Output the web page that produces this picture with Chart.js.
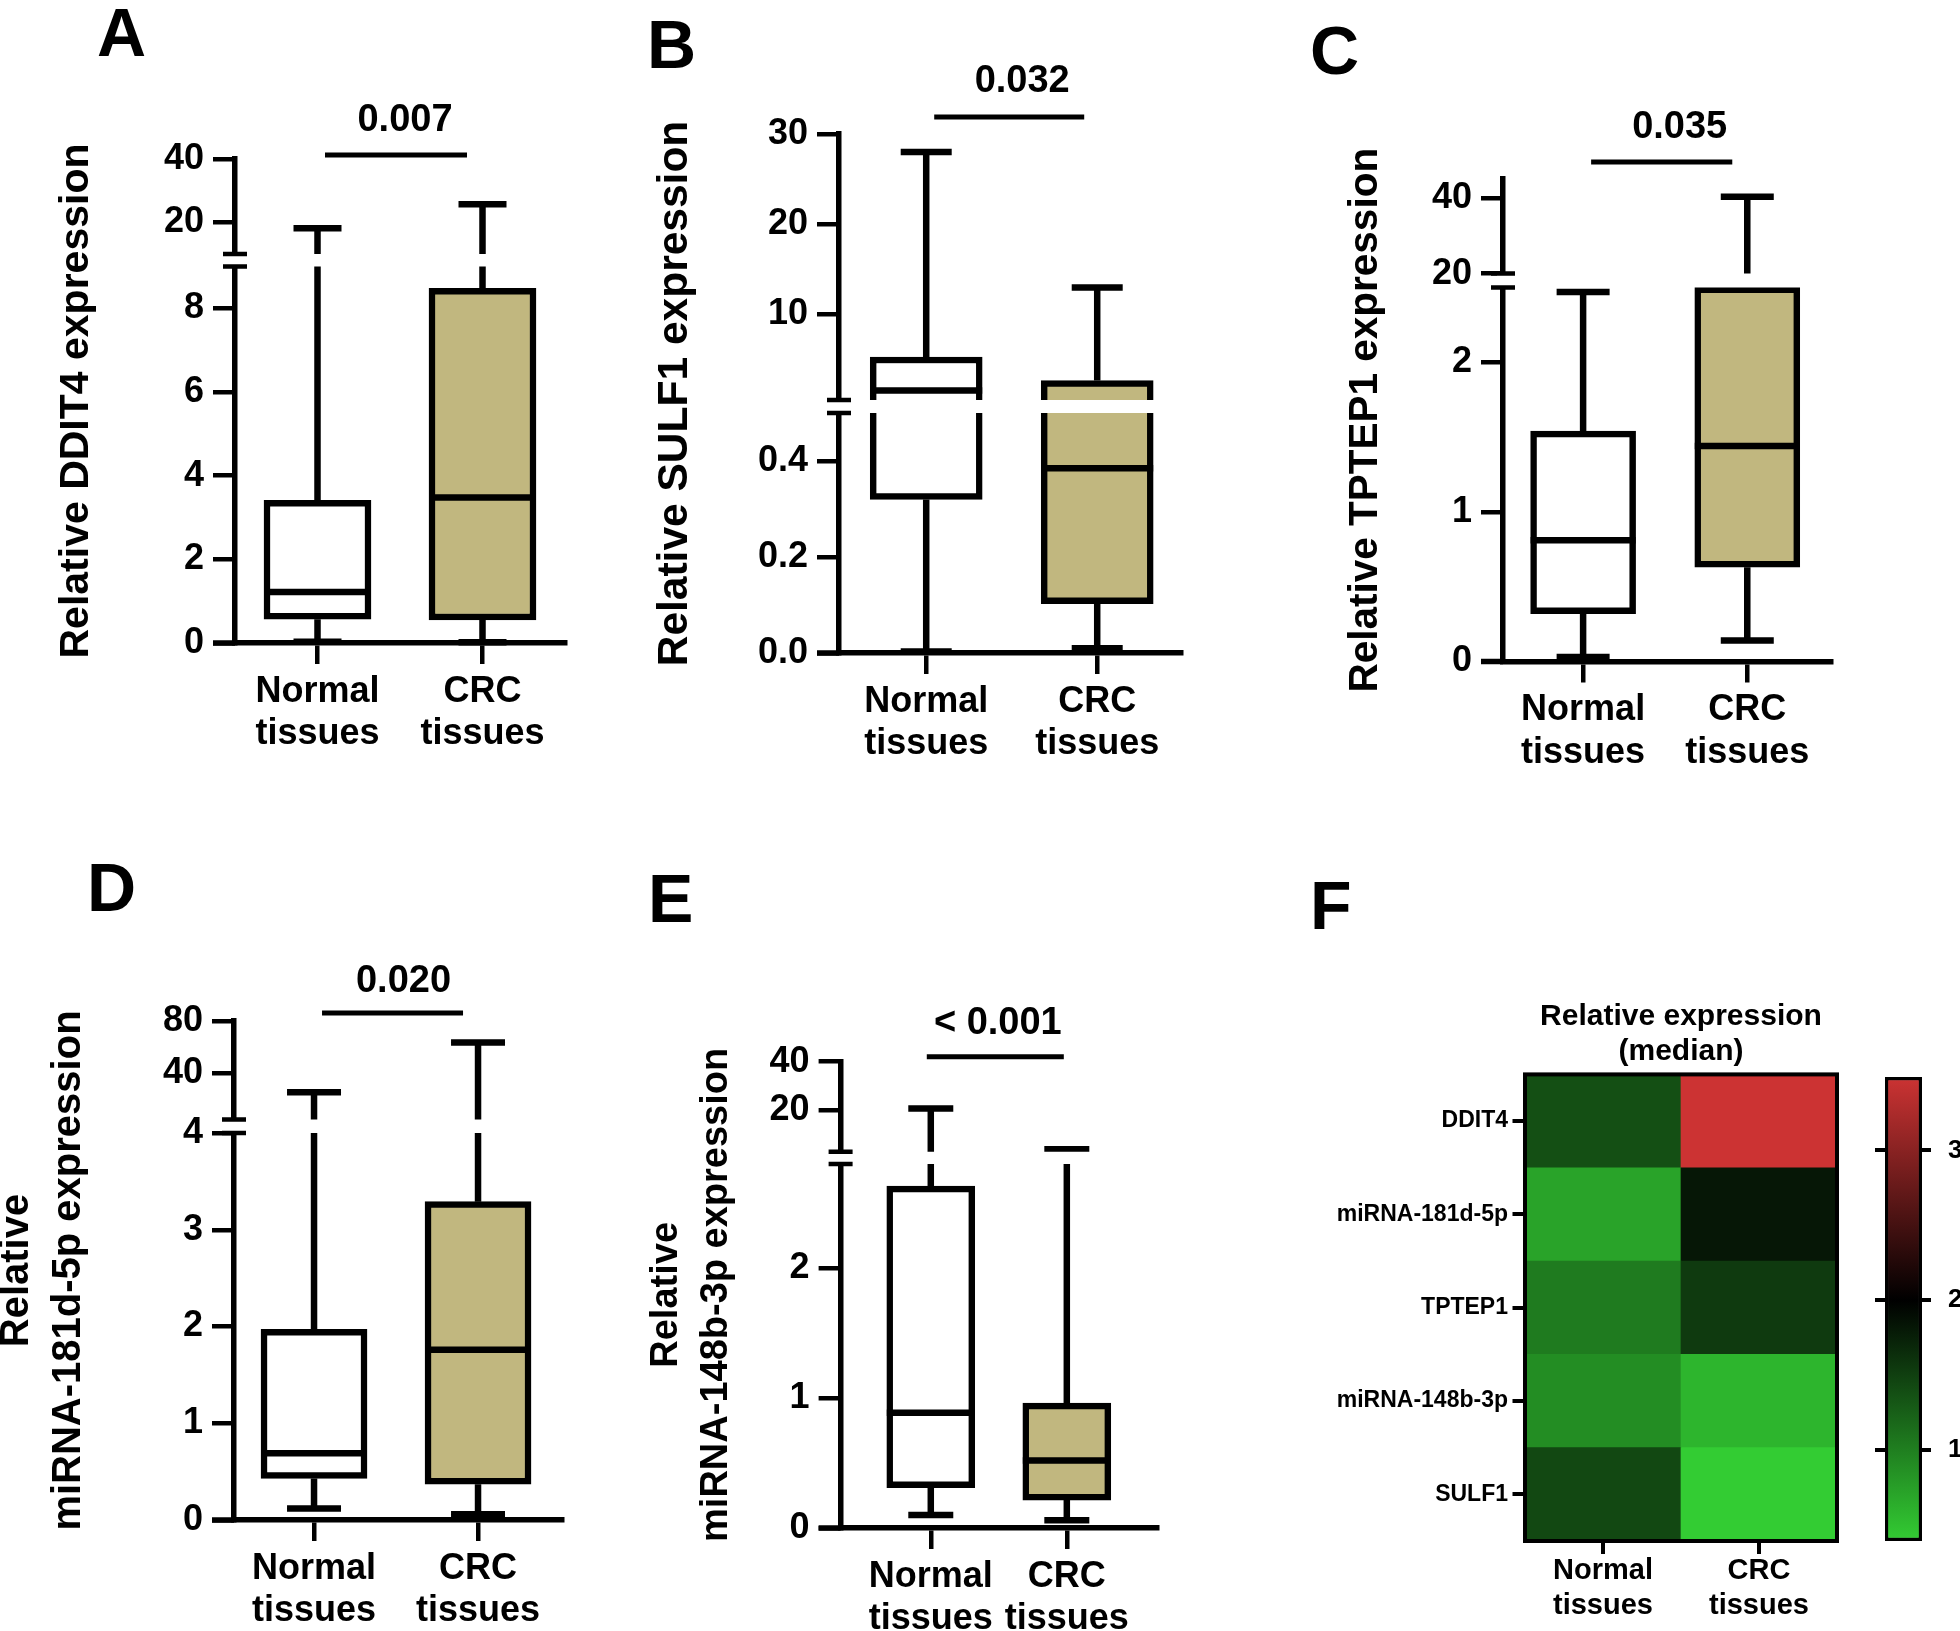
<!DOCTYPE html>
<html>
<head>
<meta charset="utf-8">
<script src="https://cdn.jsdelivr.net/npm/chart.js@4.4.1/dist/chart.umd.min.js"></script>
<style>
  html, body { margin: 0; padding: 0; background: #fff; }
  #fig { position: relative; width: 1960px; height: 1631px; overflow: hidden; background: #fff; }
  #fig canvas { position: absolute; }
  .tag { position: absolute; font: bold 68px 'Liberation Sans', Arial, sans-serif; line-height: 68px; color: #000; }
</style>
</head>
<body>
<div id="fig">
  <div class="tag" style="left:97px;top:-2px">A</div>
  <div class="tag" style="left:647px;top:10px">B</div>
  <div class="tag" style="left:1310px;top:16px">C</div>
  <div class="tag" style="left:87px;top:853px">D</div>
  <div class="tag" style="left:648px;top:864px">E</div>
  <div class="tag" style="left:1310px;top:871px">F</div>
</div>
<script>
const groupLabels = [['Normal', 'tissues'], ['CRC', 'tissues']];

// box stats: [min, Q1, median, Q3, max]
const ddit4Normal = [0.03, 0.57, 1.22, 3.41, 18.1];
const ddit4Crc = [0.02, 0.55, 3.48, 8.48, 25.7];
const sulf1Normal = [0.003, 0.32, 1.55, 5.27, 28.0];
const sulf1Crc = [0.01, 0.103, 0.385, 2.66, 12.97];
const tptep1Normal = [0.03, 0.32, 0.81, 1.54, 2.47];
const tptep1Crc = [0.14, 0.63, 1.44, 3.2, 40.3];
const mir181Normal = [0.12, 0.43, 0.69, 1.97, 25];
const mir181Crc = [0.06, 0.37, 1.76, 3.29, 63.4];
const mir148Normal = [0.1, 0.31, 0.886, 2.63, 20.7];
const mir148Crc = [0.06, 0.215, 0.52, 0.96, 3.9];

const pValues = ['0.007', '0.032', '0.035', '0.020', '< 0.001'];

// y axes: tick values / labels, and [lower segment top, upper segment bottom, axis max]
const ddit4Ticks = [0, 2, 4, 6, 8, 20, 40];
const ddit4Break = [9, 10, 40];
const sulf1Ticks = [0, 0.2, 0.4, 10, 20, 30];
const sulf1TickLabels = ['0.0', '0.2', '0.4', '10', '20', '30'];
const sulf1Break = [0.5, 0.5, 30];
const tptep1Ticks = [0, 1, 2, 20, 40];
const tptep1Break = [2.5, 20, 45];
const mir181Ticks = [0, 1, 2, 3, 4, 40, 80];
const mir181Break = [4, 4, 80];
const mir148Ticks = [0, 1, 2, 20, 40];
const mir148Break = [2.8, 2.8, 40];

// heatmap (median relative expression)
const heatRows = ['DDIT4', 'miRNA-181d-5p', 'TPTEP1', 'miRNA-148b-3p', 'SULF1'];
const heatNormal = [1.38, 0.71, 1.03, 0.89, 1.43];
const heatCrc = [3.49, 1.82, 1.54, 0.57, 0.39];
const heatMidValue = 2;
const colorbarTicks = [1, 2, 3];

const FONT = "'Liberation Sans', Arial, Helvetica, sans-serif";
Chart.defaults.font.family = FONT;
Chart.defaults.color = '#000';

// linear scale with one break: lower part [min, lowMax], upper part [upMin, max]
class BrokenLinearScale extends Chart.LinearScale {
  static id = 'brokenLinear';
  static defaults = Chart.LinearScale.defaults;

  segments() {
    const b = this.options.brk;
    const lowTop = this.bottom - (this.bottom - this.top - b.gap) * b.lowFrac;
    return { lowTop, upBottom: lowTop - b.gap };
  }

  getPixelForValue(value) {
    const b = this.options.brk;
    const { lowTop, upBottom } = this.segments();
    if (value <= b.lowMax) {
      return this.bottom - (value - this.min) / (b.lowMax - this.min) * (this.bottom - lowTop);
    }
    if (value >= b.upMin) {
      return upBottom - (value - b.upMin) / (this.max - b.upMin) * (upBottom - this.top);
    }
    return lowTop - (value - b.lowMax) / (b.upMin - b.lowMax) * (lowTop - upBottom);
  }

  getValueForPixel(pixel) {
    const b = this.options.brk;
    const { lowTop, upBottom } = this.segments();
    if (pixel >= lowTop) return this.min + (this.bottom - pixel) / (this.bottom - lowTop) * (b.lowMax - this.min);
    if (pixel <= upBottom) return b.upMin + (upBottom - pixel) / (upBottom - this.top) * (this.max - b.upMin);
    return b.lowMax;
  }
}
Chart.register(BrokenLinearScale);

const panels = [
  {
    id: 'cA', canvas: [0, 0, 620, 800], stats: [ddit4Normal, ddit4Crc],
    ticks: ddit4Ticks, tickLabels: ddit4Ticks.map(String), brk: ddit4Break,
    title: 'Relative DDIT4 expression', titleSize: 41, titleX: 77, pText: pValues[0],
    axisX: 235, top: 159, bottom: 643, right: 565, xRange: [0.5, 2.5], lowFrac: 0.7985, gap: 12.5,
    boxW: 107, capW: 48, pLine: 4, pRise: 34, pInset: [7.5, 15.5], pShift: 9
  },
  {
    id: 'cB', canvas: [620, 0, 630, 800], stats: [sulf1Normal, sulf1Crc],
    ticks: sulf1Ticks, tickLabels: sulf1TickLabels, brk: sulf1Break,
    title: 'Relative SULF1 expression', titleSize: 42.5, titleX: 675, pText: pValues[1],
    axisX: 839, top: 134, bottom: 653, right: 1181, xRange: [0.49, 2.49], lowFrac: 0.4743, gap: 13,
    boxW: 112, capW: 51, pLine: 17, pRise: 35, pInset: [8, 13], pShift: 13
  },
  {
    id: 'cC', canvas: [1250, 0, 710, 800], stats: [tptep1Normal, tptep1Crc],
    ticks: tptep1Ticks, tickLabels: tptep1Ticks.map(String), brk: tptep1Break,
    title: 'Relative TPTEP1 expression', titleSize: 40.5, titleX: 1366, pText: pValues[2],
    axisX: 1503, top: 179, bottom: 661.5, right: 1831, xRange: [0.512, 2.51], lowFrac: 0.7981, gap: 13.9,
    boxW: 105, capW: 53, pLine: 17, pRise: 34, pInset: [8, 15], pShift: 18
  },
  {
    id: 'cD', canvas: [-20, 800, 640, 831], stats: [mir181Normal, mir181Crc],
    ticks: mir181Ticks, tickLabels: mir181Ticks.map(String), brk: mir181Break,
    title: ['Relative', 'miRNA-181d-5p expression'], titleSize: 40, titleX: 17, pText: pValues[3],
    axisX: 234, top: 1021, bottom: 1520, right: 562, xRange: [0.512, 2.512], lowFrac: 0.7971, gap: 13.5,
    boxW: 106, capW: 54, pLine: 8, pRise: 31, pInset: [8, 15], pShift: 11
  },
  {
    id: 'cE', canvas: [620, 800, 630, 831], stats: [mir148Normal, mir148Crc],
    ticks: mir148Ticks, tickLabels: mir148Ticks.map(String), brk: mir148Break,
    title: ['Relative', 'miRNA-148b-3p expression'], titleSize: 38, titleX: 667, pText: pValues[4],
    axisX: 840.6, top: 1061.7, bottom: 1528, right: 1157, xRange: [0.337, 2.663], lowFrac: 0.8016, gap: 12.2,
    boxW: 88, capW: 45, pLine: 5, pRise: 33, pInset: [-4, 3], pShift: 2.5
  }
];

const fig = document.getElementById('fig');

function addCanvas(id, [l, t, w, h]) {
  const c = document.createElement('canvas');
  c.id = id;
  c.width = w;
  c.height = h;
  c.style.left = l + 'px';
  c.style.top = t + 'px';
  fig.appendChild(c);
  return c;
}

function zeroPad(s) {
  s.paddingLeft = s.paddingRight = s.paddingTop = s.paddingBottom = 0;
}

function clipSegments(chart) {
  const { ctx, chartArea: a, scales: { y } } = chart;
  const s = y.segments();
  ctx.beginPath();
  ctx.rect(a.left - 40, s.lowTop, a.right - a.left + 80, a.bottom - s.lowTop + 20);
  ctx.rect(a.left - 40, a.top - 20, a.right - a.left + 80, s.upBottom - a.top + 20);
  ctx.clip();
}

function boxPlugin(p) {
  return {
    id: 'boxWhiskers',
    beforeDatasetsDraw(chart) {
      chart.ctx.save();
      clipSegments(chart);
    },
    afterDatasetsDraw(chart) {
      const { ctx, scales: { x, y } } = chart;
      ctx.strokeStyle = '#000';
      ctx.lineWidth = 6.5;
      ctx.lineCap = 'butt';
      p.stats.forEach((st, i) => {
        const cx = x.getPixelForValue(i + 1);
        const [mn, q1, med, q3, mx] = st.map(v => y.getPixelForValue(v));
        ctx.beginPath();
        ctx.moveTo(cx, q3); ctx.lineTo(cx, mx);
        ctx.moveTo(cx, q1); ctx.lineTo(cx, mn);
        ctx.moveTo(cx - p.capW / 2, mx); ctx.lineTo(cx + p.capW / 2, mx);
        ctx.moveTo(cx - p.capW / 2, mn); ctx.lineTo(cx + p.capW / 2, mn);
        ctx.moveTo(cx - p.boxW / 2, med); ctx.lineTo(cx + p.boxW / 2, med);
        ctx.stroke();
      });
      ctx.restore();
    },
    afterDraw(chart) {
      const { ctx, chartArea: a, scales: { x, y } } = chart;
      const s = y.segments();
      ctx.save();
      // axis break
      ctx.fillStyle = '#fff';
      ctx.fillRect(a.left - 6, s.upBottom, 12, s.lowTop - s.upBottom);
      ctx.strokeStyle = '#000';
      ctx.lineWidth = 4.5;
      ctx.beginPath();
      [s.upBottom, s.lowTop].forEach(yy => { ctx.moveTo(a.left - 12, yy); ctx.lineTo(a.left + 12, yy); });
      ctx.stroke();
      // x axis runs out to the y tick length
      ctx.lineWidth = 5.5;
      ctx.beginPath();
      ctx.moveTo(a.left - 22, a.bottom);
      ctx.lineTo(a.left, a.bottom);
      ctx.stroke();
      // significance bar
      const x1 = x.getPixelForValue(1) + p.pInset[0];
      const x2 = x.getPixelForValue(2) - p.pInset[1];
      const yl = a.top - p.pLine;
      ctx.lineWidth = 5;
      ctx.beginPath();
      ctx.moveTo(x1, yl);
      ctx.lineTo(x2, yl);
      ctx.stroke();
      ctx.font = 'bold 38px ' + FONT;
      ctx.fillStyle = '#000';
      ctx.textAlign = 'center';
      ctx.textBaseline = 'middle';
      ctx.fillText(p.pText, (x1 + x2) / 2 + p.pShift, yl - p.pRise);
      ctx.restore();
    }
  };
}

function boxChart(p) {
  const [cl, ct, cw, ch] = p.canvas;
  const titleLh = 1.3;
  return new Chart(addCanvas(p.id, p.canvas), {
    type: 'bar',
    data: {
      datasets: [{
        data: p.stats.map((st, i) => ({ x: i + 1, y: [st[1], st[3]] })),
        backgroundColor: ['#ffffff', '#c1b77f'],
        borderColor: '#000',
        borderWidth: 6.5,
        borderSkipped: false,
        barThickness: p.boxW
      }]
    },
    options: {
      responsive: false,
      animation: false,
      events: [],
      layout: { padding: { left: 0, top: p.top - ct, right: cl + cw - p.right, bottom: 0 } },
      plugins: { legend: { display: false }, tooltip: { enabled: false } },
      scales: {
        x: {
          type: 'linear',
          min: p.xRange[0],
          max: p.xRange[1],
          offset: false,
          afterBuildTicks: s => { s.ticks = groupLabels.map((_, i) => ({ value: i + 1 })); },
          ticks: {
            callback: (v, i) => groupLabels[i],
            font: { size: 36, weight: 'bold', lineHeight: 1.17 },
            padding: 7,
            autoSkip: false,
            maxRotation: 0,
            minRotation: 0
          },
          grid: { offset: false, drawOnChartArea: false, tickLength: 21, lineWidth: 4.5, color: '#000' },
          border: { display: true, width: 5.5, color: '#000' },
          afterFit: s => { s.height = ct + ch - p.bottom; zeroPad(s); }
        },
        y: {
          type: 'brokenLinear',
          min: 0,
          max: p.brk[2],
          brk: { lowMax: p.brk[0], upMin: p.brk[1], lowFrac: p.lowFrac, gap: p.gap },
          afterBuildTicks: s => { s.ticks = p.ticks.map(v => ({ value: v })); },
          ticks: {
            callback: (v, i) => p.tickLabels[i],
            font: { size: 36, weight: 'bold' },
            padding: 9,
            autoSkip: false
          },
          grid: { drawOnChartArea: false, tickLength: 22, lineWidth: 4.5, color: '#000' },
          border: { display: true, width: 5.5, color: '#000' },
          title: {
            display: true,
            text: p.title,
            color: '#000',
            font: { size: p.titleSize, weight: 'bold', lineHeight: titleLh },
            padding: { top: p.titleX - cl - p.titleSize * titleLh / 2, bottom: 0 }
          },
          afterFit: s => { s.width = p.axisX - cl; zeroPad(s); }
        }
      }
    },
    plugins: [boxPlugin(p)]
  });
}

panels.forEach(boxChart);

// ---- heatmap ----
const heatMin = Math.min(...heatNormal, ...heatCrc);
const heatMax = Math.max(...heatNormal, ...heatCrc);

function heatColor(v) {
  const green = [51, 204, 51];
  const red = [204, 51, 51];
  let c, t;
  if (v <= heatMidValue) {
    c = green;
    t = (heatMidValue - v) / (heatMidValue - heatMin);
  } else {
    c = red;
    t = (v - heatMidValue) / (heatMax - heatMidValue);
  }
  t = Math.max(0, Math.min(1, t));
  return 'rgb(' + c.map(k => Math.round(k * t)).join(',') + ')';
}

const heatLayout = { canvas: [1250, 850, 620, 781], left: 1525, right: 1837, bottom: 1541 };
const rowsUp = heatRows.slice().reverse();

new Chart(addCanvas('cF', heatLayout.canvas), {
  type: 'bar',
  data: {
    labels: groupLabels,
    datasets: rowsUp.map(name => {
      const k = heatRows.indexOf(name);
      return {
        label: name,
        data: [1, 1],
        backgroundColor: [heatColor(heatNormal[k]), heatColor(heatCrc[k])],
        barPercentage: 1,
        categoryPercentage: 1
      };
    })
  },
  options: {
    responsive: false,
    animation: false,
    events: [],
    layout: { padding: { left: 0, top: 140, right: 1870 - heatLayout.right, bottom: 0 } },
    plugins: {
      legend: { display: false },
      tooltip: { enabled: false },
      title: {
        display: true,
        fullSize: false,
        text: ['Relative expression', '(median)'],
        color: '#000',
        font: { size: 30, weight: 'bold', lineHeight: 1.15 },
        padding: { top: 9.6, bottom: 5.8 }
      }
    },
    scales: {
      x: {
        stacked: true,
        grid: { offset: false, drawOnChartArea: false, tickLength: 13, lineWidth: 4, color: '#000' },
        border: { display: false },
        ticks: { font: { size: 29, weight: 'bold', lineHeight: 1.2 }, padding: 0, maxRotation: 0 },
        afterFit: s => { s.height = 1631 - heatLayout.bottom; zeroPad(s); }
      },
      y: {
        stacked: true,
        min: 0,
        max: rowsUp.length,
        afterBuildTicks: s => { s.ticks = rowsUp.map((_, i) => ({ value: i + 0.5 })); },
        ticks: { callback: (v, i) => rowsUp[i], font: { size: 23, weight: 'bold' }, padding: 4.5, autoSkip: false },
        grid: { drawOnChartArea: false, tickLength: 12.5, lineWidth: 4, color: '#000' },
        border: { display: false },
        afterFit: s => { s.width = heatLayout.left - heatLayout.canvas[0]; zeroPad(s); }
      }
    }
  },
  plugins: [{
    id: 'heatOutline',
    afterDatasetsDraw(chart) {
      const { ctx, chartArea: a } = chart;
      ctx.save();
      ctx.strokeStyle = '#000';
      ctx.lineWidth = 4;
      ctx.strokeRect(a.left, a.top, a.right - a.left, a.bottom - a.top);
      ctx.restore();
    }
  }]
});

// ---- colour bar ----
const barLayout = { canvas: [1860, 1000, 100, 631], left: 1885, right: 1922, top: 1077, bottom: 1541 };

function colorbarFill(c) {
  const chart = c.chart;
  if (!chart.chartArea) return '#000';
  const y = chart.scales.y;
  const g = chart.ctx.createLinearGradient(0, y.getPixelForValue(heatMin), 0, y.getPixelForValue(heatMax));
  g.addColorStop(0, heatColor(heatMin));
  g.addColorStop((heatMidValue - heatMin) / (heatMax - heatMin), heatColor(heatMidValue));
  g.addColorStop(1, heatColor(heatMax));
  return g;
}

const cbTickBuild = s => { s.ticks = colorbarTicks.map(v => ({ value: v })); };

new Chart(addCanvas('cBar', barLayout.canvas), {
  type: 'bar',
  data: {
    labels: [''],
    datasets: [{
      data: [[heatMin, heatMax]],
      backgroundColor: colorbarFill,
      borderColor: '#000',
      borderWidth: 3.5,
      borderSkipped: false,
      barPercentage: 1,
      categoryPercentage: 1
    }]
  },
  options: {
    responsive: false,
    animation: false,
    events: [],
    layout: { padding: { left: 0, right: 0, top: barLayout.top - 1000, bottom: 1631 - barLayout.bottom } },
    plugins: { legend: { display: false }, tooltip: { enabled: false } },
    scales: {
      x: { display: false },
      y: {
        position: 'left',
        min: heatMin,
        max: heatMax,
        afterBuildTicks: cbTickBuild,
        ticks: { display: false },
        grid: { drawOnChartArea: false, tickLength: 10, lineWidth: 4, color: '#000' },
        border: { display: false },
        afterFit: s => { s.width = barLayout.left - barLayout.canvas[0]; zeroPad(s); }
      },
      y2: {
        position: 'right',
        min: heatMin,
        max: heatMax,
        afterBuildTicks: cbTickBuild,
        ticks: { callback: v => String(v), font: { size: 26, weight: 'bold' }, padding: 17, autoSkip: false },
        grid: { drawOnChartArea: false, tickLength: 9, lineWidth: 4, color: '#000' },
        border: { display: false },
        afterFit: s => { s.width = 1960 - barLayout.right; zeroPad(s); }
      }
    }
  }
});
</script>
</body>
</html>
